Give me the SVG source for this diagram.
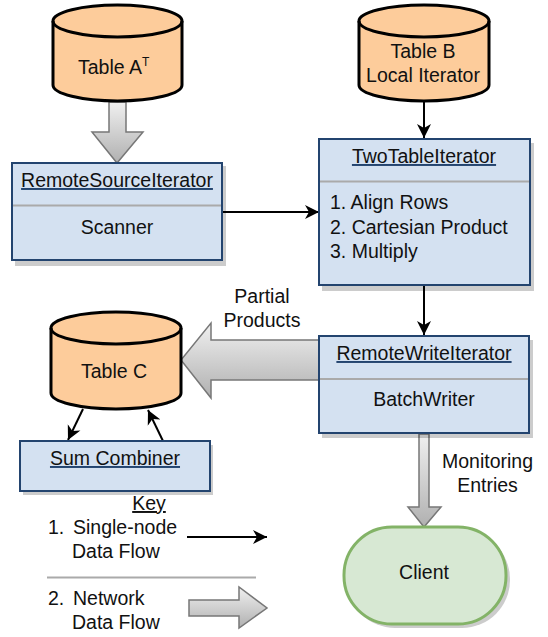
<svg xmlns="http://www.w3.org/2000/svg" width="548" height="637" viewBox="0 0 548 637">
<style>
text{font-family:"Liberation Sans",Arial,sans-serif;font-size:19.500px;fill:#111}
.m{text-anchor:middle}
.u{text-decoration:underline}
text.b{fill:#23446f}
.b tspan{fill:#111}
.box{fill:#d4e1f1;stroke:#23446f;stroke-width:2}
.sh{fill:#000;opacity:.2}
.div{stroke:#aaa;stroke-width:2}
.cyl{fill:#fdcc9b;stroke:#000;stroke-width:3}
.ln{fill:none;stroke:#000;stroke-width:2}
.ga{fill:url(#g);stroke:#777;stroke-width:1.500}
</style>
<defs>
<linearGradient id="g" x1="0" y1="0" x2="0" y2="1"><stop offset="0" stop-color="#f0f0f0"/><stop offset="1" stop-color="#b0b0b0"/></linearGradient>
<marker id="a" markerUnits="userSpaceOnUse" markerWidth="16" markerHeight="16" refX="14" refY="8" orient="auto"><path d="M0 1L14 8L0 15L4 8Z" fill="#000"/></marker>
</defs>
<g id="connectors">
<path class="ga" d="M109 102H126V132H143L117 163L92 132H109Z"/>
<path class="ga" d="M319 340H211V323L181 360L211 398V380H319Z"/>
<path class="ga" d="M419 434H429V507H441L424 527L408 507H419Z"/>
<path class="ln" d="M222 212H319" marker-end="url(#a)"/>
<path class="ln" d="M424 102V138" marker-end="url(#a)"/>
<path class="ln" d="M424 285V335" marker-end="url(#a)"/>
<path class="ln" d="M83 409L68 440" marker-end="url(#a)"/>
<path class="ln" d="M163 441L148 410" marker-end="url(#a)"/>
</g>
<g id="table-a">
<path class="cyl" d="M53 21A64.500 16 0 0 1 182 21V85A64.500 16 0 0 1 53 85Z"/>
<path class="cyl" style="fill:none" d="M53 21A64.500 16 0 0 0 182 21"/>
<text x="78" y="74">Table A<tspan dy="-8" font-size="12">T</tspan></text>
</g>
<g id="table-b">
<path class="cyl" d="M359 21A65 16 0 0 1 489 21V85A65 16 0 0 1 359 85Z"/>
<path class="cyl" style="fill:none" d="M359 21A65 16 0 0 0 489 21"/>
<text class="m" x="423" y="58">Table B</text>
<text class="m" x="423" y="82">Local Iterator</text>
</g>
<g id="remote-source">
<rect class="sh" x="15" y="166" width="211" height="100"/>
<rect class="box" x="12" y="163" width="210" height="97"/>
<path class="div" d="M13 205.500H221"/>
<text class="m u b" x="117" y="187"><tspan>RemoteSourceIterator</tspan></text>
<text class="m" x="117" y="234">Scanner</text>
</g>
<g id="two-table">
<rect class="sh" x="322" y="143" width="212" height="148"/>
<rect class="box" x="319" y="139" width="211" height="146"/>
<path class="div" d="M320 181.500H529"/>
<text class="m u b" x="424" y="163"><tspan>TwoTableIterator</tspan></text>
<text x="330" y="209">1. Align Rows</text>
<text x="330" y="234">2. Cartesian Product</text>
<text x="330" y="258">3. Multiply</text>
</g>
<g id="remote-write">
<rect class="sh" x="322" y="340" width="211" height="98"/>
<rect class="box" x="319" y="336" width="210" height="97"/>
<path class="div" d="M320 379H528"/>
<text class="m u b" x="424" y="360"><tspan>RemoteWriteIterator</tspan></text>
<text class="m" x="424" y="406">BatchWriter</text>
</g>
<g id="table-c">
<path class="cyl" d="M51 328A65 16 0 0 1 181 328V393A65 16 0 0 1 51 393Z"/>
<path class="cyl" style="fill:none" d="M51 328A65 16 0 0 0 181 328"/>
<text class="m" x="114" y="378">Table C</text>
</g>
<g id="sum-combiner">
<rect class="sh" x="23" y="445" width="190" height="50"/>
<rect class="box" x="20" y="441" width="190" height="50"/>
<text class="m u b" x="115" y="465"><tspan>Sum Combiner</tspan></text>
</g>
<g id="client">
<rect x="347" y="531" width="163" height="97" rx="48" ry="48" class="sh"/>
<rect x="344" y="527" width="162" height="97" rx="48" ry="48" fill="#d7e8d3" stroke="#83b367" stroke-width="3"/>
<text class="m" x="424" y="579">Client</text>
</g>
<g id="labels">
<text class="m" x="262" y="303">Partial</text>
<text class="m" x="262" y="327">Products</text>
<text class="m" x="487.500" y="468">Monitoring</text>
<text class="m" x="487.500" y="492">Entries</text>
</g>
<g id="key">
<text class="m u" x="149" y="510">Key</text>
<text x="48" y="534">1.</text><text x="73" y="534">Single-node</text>
<text x="72" y="558">Data Flow</text>
<path class="ln" d="M187 537H267" marker-end="url(#a)"/>
<path d="M47 577.500H256" stroke="#aaa" stroke-width="2"/>
<text x="48" y="605">2.</text><text x="73" y="605">Network</text>
<text x="72" y="629">Data Flow</text>
<path class="ga" d="M189 600H239V587L267 608L239 628V616H189Z"/>
</g>
</svg>
